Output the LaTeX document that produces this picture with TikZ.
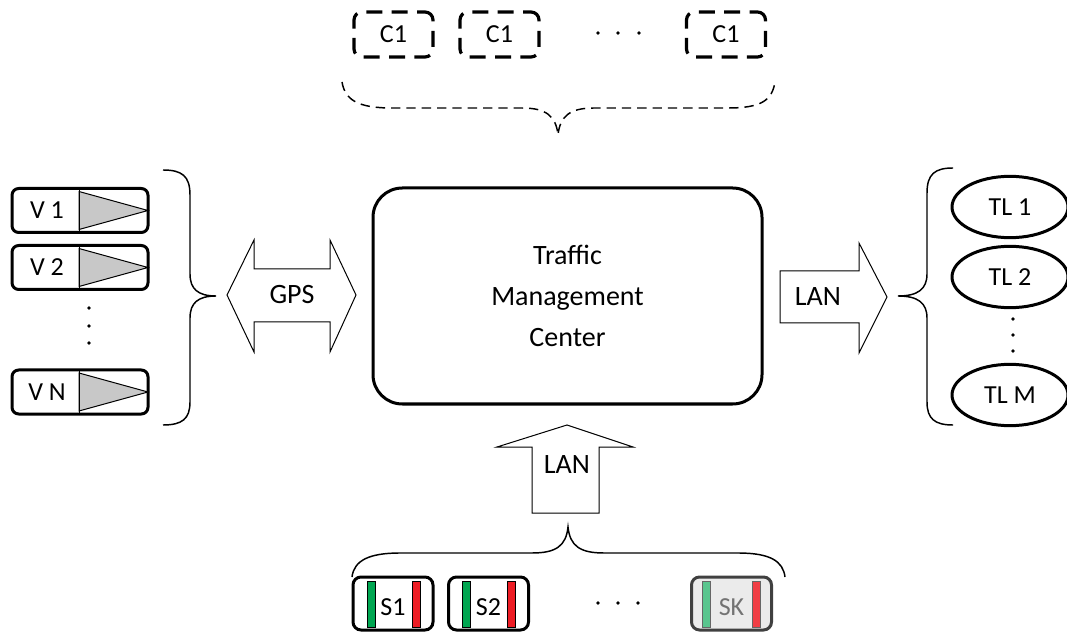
\documentclass[tikz,border=0pt]{standalone}
\usepackage{fontspec}
\setmainfont{Carlito}
\usetikzlibrary{shapes.geometric}
\definecolor{sgreen}{RGB}{0,166,81}
\definecolor{sred}{RGB}{237,28,36}
\definecolor{tri}{RGB}{200,200,200}
\begin{document}
\begin{tikzpicture}[x=0.75pt,y=-0.75pt,
  bigtxt/.style={font=\fontsize{21}{31}\selectfont, align=center, inner sep=0pt},
  smalltxt/.style={font=\fontsize{19.5}{23}\selectfont, inner sep=0pt},
  tmcbox/.style={draw, line width=2.25pt, rounded corners=22pt, minimum width=291.75pt, minimum height=162pt, bigtxt},
  vehbox/.style={draw, line width=2.25pt, rounded corners=5pt, minimum width=102pt, minimum height=33pt, inner sep=0pt},
  tlell/.style={draw, ellipse, line width=2.25pt, minimum width=87pt, minimum height=46pt, inner sep=0pt, smalltxt},
  sbox/.style={draw, line width=2.25pt, rounded corners=6pt, minimum width=60pt, minimum height=39.75pt, inner sep=0pt},
  cbox/.style={draw, line width=2.4pt, rounded corners=6pt, dash pattern=on 12pt off 7pt, dash phase=6pt, minimum width=59.25pt, minimum height=33.75pt, inner sep=0pt, smalltxt},
  blockarrow/.style={draw, line width=0.75pt, fill=white},
  bracestyle/.style={draw, line width=1.1pt},
  dot/.style={fill, circle, inner sep=0pt, minimum size=2.8pt}
]
\useasboundingbox (0,0) rectangle (1067,634);

% ---- top dashed consumers ----
\node[cbox] (c1a) at (393.5,34.5) {C1};
\node[cbox] (c1b) at (499.5,34.5) {C1};
\node[cbox] (c1c) at (726,34.5) {C1};
\node[dot] (td1) at (598,33) {};
\node[dot] (td2) at (618,33) {};
\node[dot] (td3) at (639,33) {};
\draw[bracestyle, dash pattern=on 7pt off 4.5pt] (342,82) .. controls (345,100) and (358,108) .. (392,108) -- (522,108) .. controls (546,108) and (556,116) .. (558,135) .. controls (560,116) and (570,108) .. (594,108) -- (728,108) .. controls (762,108) and (772,100) .. (775,82);

% ---- TMC ----
\node[tmcbox] (tmc) at (567.5,296) {Traffic\\Management\\Center};

% ---- vehicles ----
\foreach \n/\t/\yy in {v1/V 1/210.5, v2/V 2/267.5, vn/V N/392} {
  \node[vehbox] (\n) at (80,\yy) {};
  \draw[line width=0.75pt, fill=tri] (79,\yy-19) -- (148,\yy) -- (79,\yy+19) -- cycle;
  \draw[line width=0.75pt] (79,\yy-21) -- (79,\yy+21);
  \node[smalltxt] at (47,\yy) {\t};
}
\node[dot] (vd1) at (89,308) {};
\node[dot] (vd2) at (89,326) {};
\node[dot] (vd3) at (89,343) {};
\draw[bracestyle] (163,170) .. controls (182,170) and (190,176) .. (190,195) -- (190,274) .. controls (190,289) and (198,296) .. (216,296) .. controls (198,296) and (190,303) .. (190,318) -- (190,402) .. controls (190,419) and (182,425) .. (163,425);

% ---- GPS arrow ----
\draw[blockarrow] (227,295) -- (254,240) -- (254,269) -- (330,269) -- (330,240) -- (356,295) -- (330,352) -- (330,322) -- (254,322) -- (254,352) -- cycle;
\node[bigtxt] (gps) at (292,295) {GPS};

% ---- right LAN arrow ----
\draw[blockarrow] (780,271) -- (859,271) -- (859,243) -- (887,297) -- (859,353) -- (859,323) -- (780,323) -- cycle;
\node[bigtxt] (lanr) at (818,297) {LAN};

% ---- traffic lights ----
\draw[bracestyle] (953,168) .. controls (935,168) and (927,174) .. (927,193) -- (927,274) .. controls (927,289) and (918,296) .. (898,296) .. controls (918,296) and (927,303) .. (927,318) -- (927,402) .. controls (927,419) and (935,425) .. (953,425);
\node[tlell] (tl1) at (1010,207) {TL 1};
\node[tlell] (tl2) at (1010,277) {TL 2};
\node[tlell] (tlm) at (1010,395) {TL M};
\node[dot] (rd1) at (1013,319) {};
\node[dot] (rd2) at (1013,335) {};
\node[dot] (rd3) at (1013,351) {};

% ---- bottom LAN arrow ----
\draw[blockarrow] (567,425) -- (633,447) -- (599,447) -- (599,513) -- (532,513) -- (532,447) -- (497,447) -- cycle;
\node[bigtxt] (lanb) at (567,465) {LAN};
\draw[bracestyle] (352,577) .. controls (354,561) and (368,553) .. (400,553) -- (532,553) .. controls (556,553) and (566,546) .. (568,527) .. controls (570,546) and (580,553) .. (604,553) -- (738,553) .. controls (770,553) and (783,561) .. (785,577);

% ---- sensors ----
\foreach \n/\t/\xx in {s1/S1/393, s2/S2/488.5} {
  \node[sbox] (\n) at (\xx,603.5) {};
  \draw[line width=0.7pt, fill=sgreen] (\xx-26,581) rectangle (\xx-18,627);
  \draw[line width=0.7pt, fill=sred] (\xx+19,581) rectangle (\xx+27,627);
  \node[smalltxt] at (\xx,607) {\t};
}
\node[sbox, draw=black!75, fill=black!8] (sk) at (731.5,603.5) {};
\draw[line width=0.7pt, draw=black!60, fill=sgreen!65!white] (702,581) rectangle (710,627);
\draw[line width=0.7pt, draw=black!60, fill=sred!85!white] (752,581) rectangle (760,627);
\node[smalltxt, text=black!55] at (731.5,607) {SK};
\node[dot] (bd1) at (598,603) {};
\node[dot] (bd2) at (618,603) {};
\node[dot] (bd3) at (638,603) {};
\end{tikzpicture}
\end{document}
